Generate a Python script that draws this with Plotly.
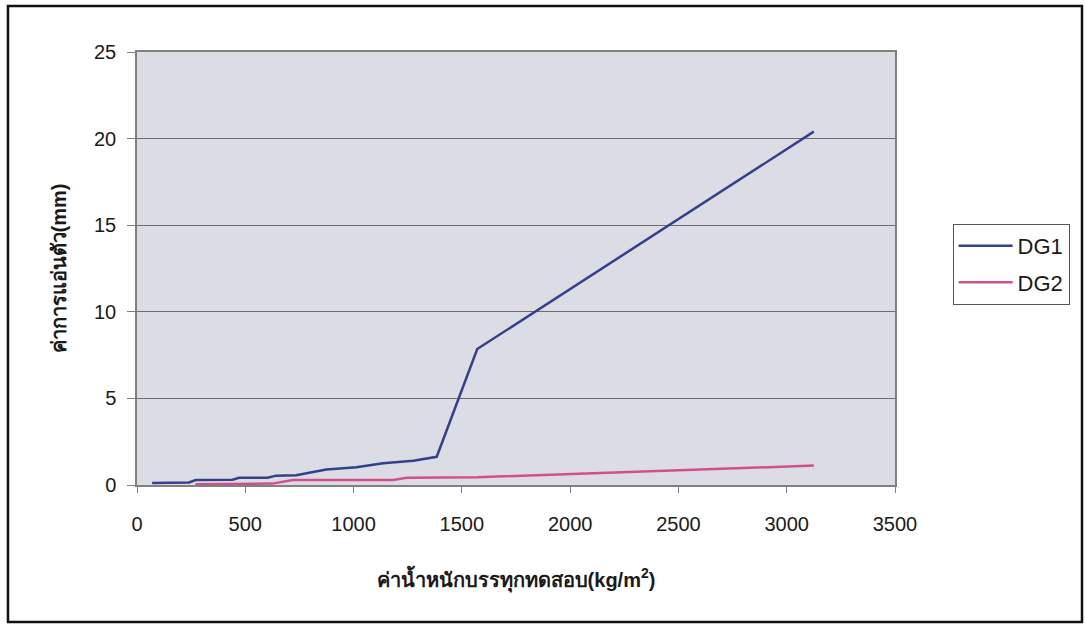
import plotly.graph_objects as go

dg1_x = [70, 240, 271, 441, 472, 603, 642, 735, 874, 1013, 1136, 1276, 1384, 1571, 3125]
dg1_y = [0.12, 0.15, 0.29, 0.3, 0.42, 0.42, 0.54, 0.56, 0.9, 1.02, 1.25, 1.4, 1.63, 7.85, 20.4]
dg2_x = [270, 445, 626, 719, 1183, 1245, 1384, 1571, 3125]
dg2_y = [0.05, 0.05, 0.08, 0.29, 0.29, 0.42, 0.42, 0.45, 1.12]

series_names = ["DG1", "DG2"]
x_ticks = [0, 500, 1000, 1500, 2000, 2500, 3000, 3500]
y_ticks = [0, 5, 10, 15, 20, 25]

font_fam = "Liberation Sans, Arial, Noto Sans, sans-serif"

fig = go.Figure()
fig.add_trace(go.Scatter(x=dg1_x, y=dg1_y, mode="lines", name=series_names[0], legendgroup="g1",
                         line=dict(color="#35408c", width=2.5)))
fig.add_trace(go.Scatter(x=dg2_x, y=dg2_y, mode="lines", name=series_names[1], legendgroup="g2",
                         line=dict(color="#d0508c", width=2.5)))

fig.update_layout(
    width=1086, height=626,
    margin=dict(l=137, r=191, t=52, b=141),
    paper_bgcolor="white",
    plot_bgcolor="#dcdce5",
    font=dict(family=font_fam, size=20, color="#1a1a1a"),
    showlegend=True,
    legend=dict(x=1.076, y=0.603, xanchor="left", yanchor="top",
                bgcolor="white", bordercolor="#555555", borderwidth=1,
                font=dict(size=22), itemwidth=54, tracegroupgap=5),
    xaxis=dict(range=[0, 3500], tickvals=x_ticks, showgrid=False, zeroline=False,
               showline=True, linecolor="#808080", linewidth=1.5, mirror=True,
               ticks="outside", ticklen=6, tickcolor="#808080", ticklabelstandoff=14,
               title=dict(text="<b>ค่าน้ำหนักบรรทุกทดสอบ(kg/m<sup>2</sup>)</b>", font=dict(size=20), standoff=39)),
    yaxis=dict(range=[0, 25], tickvals=y_ticks, showgrid=True, gridcolor="#6e6e6e", gridwidth=1.2,
               zeroline=False, showline=True, linecolor="#808080", linewidth=1.5, mirror=True,
               ticks="outside", ticklen=8, tickcolor="#808080", ticklabelstandoff=7,
               title=dict(text="<b>ค่าการแอ่นตัว(mm)</b>", font=dict(size=20), standoff=22)),
)

# outer chart frame (paper coords relative to plot area 758x433 px)
fig.add_shape(type="rect", xref="paper", yref="paper",
              x0=-0.1702, x1=1.2467, y0=-0.3164, y1=1.1062,
              line=dict(color="#111111", width=2.5), fillcolor="rgba(0,0,0,0)", layer="below")

fig.write_html("out.html", config={"displayModeBar": False},
               post_script="document.body.style.margin='0';document.body.style.overflow='hidden';")
